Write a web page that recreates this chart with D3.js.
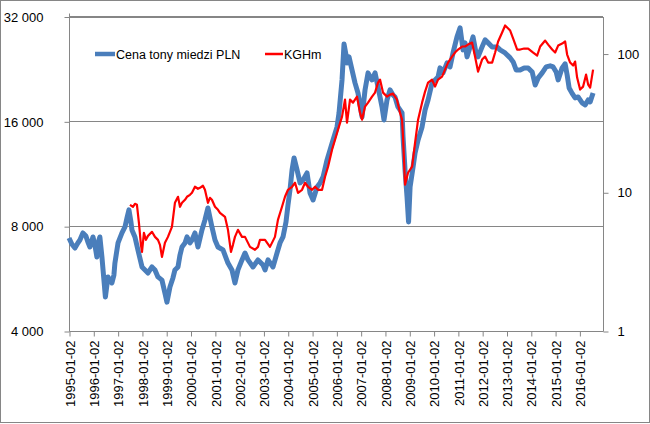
<!DOCTYPE html>
<html><head><meta charset="utf-8">
<script src="https://cdn.jsdelivr.net/npm/d3@7"></script>
<style>
html,body{margin:0;padding:0;background:#fff;}
svg text{font-family:"Liberation Sans",Arial,sans-serif;fill:#000;}
</style></head>
<body><svg id="c" width="650" height="424"></svg>
<script>
const xTickLabels = ["1995-01-02","1996-01-02","1997-01-02","1998-01-02","1999-01-02","2000-01-02","2001-01-02","2002-01-02","2003-01-02","2004-01-02","2005-01-02","2006-01-02","2007-01-02","2008-01-02","2009-01-02","2010-01-02","2011-01-02","2012-01-02","2013-01-02","2014-01-02","2015-01-02","2016-01-02"];
const leftTicks = [4000, 8000, 16000, 32000];
const rightTicks = [1, 10, 100];
const seriesNames = ["Cena tony miedzi PLN", "KGHm"];

const copperSeries = [
["1995-01-02",7400],["1995-02-15",7100],["1995-04-01",6925],["1995-05-15",7160],["1995-06-15",7300],["1995-07-30",7650],["1995-09-13",7500],["1995-10-13",7200],["1995-11-12",6970],["1995-12-28",7450],
["1996-01-27",7050],["1996-02-25",6525],["1996-03-27",7300],["1996-04-10",7450],["1996-05-11",6525],["1996-06-10",5600],["1996-07-02",5010],["1996-07-25",5420],["1996-08-09",5720],["1996-09-08",5600],["1996-10-08",5495],["1996-11-07",5790],["1996-11-22",6270],
["1997-01-08",7160],["1997-03-08",7650],["1997-04-22",7960],["1997-05-22",8445],["1997-06-21",8910],["1997-07-21",8225],["1997-08-05",7800],["1997-09-19",7450],["1997-11-03",6835],
["1998-01-03",6110],["1998-02-17",5990],["1998-04-03",5870],["1998-06-02",6110],["1998-07-17",5990],["1998-08-31",5720],["1998-10-30",5600],["1998-12-14",5140],
["1999-01-13",4840],["1999-02-27",5350],["1999-04-13",5680],["1999-05-13",5990],["1999-06-28",6110],["1999-07-28",6610],["1999-08-27",6970],["1999-10-11",7160],["1999-11-10",7450],["1999-12-25",7160],
["2000-01-24",7300],["2000-03-09",7650],["2000-04-23",6970],["2000-06-22",7800],["2000-08-06",8335],["2000-09-20",9025],["2000-11-19",7960],
["2001-01-04",7300],["2001-02-18",6970],["2001-05-04",6835],["2001-07-18",6270],["2001-09-16",5990],["2001-10-31",5495],["2001-12-15",5990],
["2002-02-14",6400],["2002-03-31",6700],["2002-05-15",6400],["2002-07-29",6110],["2002-10-12",6400],["2002-12-27",6190],
["2003-01-26",5990],["2003-03-12",6400],["2003-05-26",6110],["2003-07-25",6700],["2003-09-08",7160],["2003-10-23",7450],["2003-12-07",8225],
["2004-01-06",9205],["2004-02-05",10160],["2004-03-07",11600],["2004-04-06",12560],["2004-05-21",11600],["2004-07-05",10650],["2004-08-19",10860],["2004-10-18",11375],["2004-12-02",9965],
["2005-01-17",9510],["2005-03-18",10370],["2005-05-02",10650],["2005-06-16",11075],["2005-08-15",12395],["2005-09-29",13245],["2005-11-13",14150],
["2006-01-12",15420],["2006-02-11",16910],["2006-03-28",21040],["2006-04-27",26700],["2006-05-27",24820],["2006-06-11",23545],["2006-07-11",24500],["2006-08-25",22480],["2006-10-09",20630],["2006-11-23",19300],
["2007-01-23",16470],["2007-03-09",19700],["2007-04-23",22040],["2007-06-22",21040],["2007-08-06",22040],["2007-09-20",20090],["2007-11-19",17600],["2007-12-19",16150],
["2008-02-02",18430],["2008-03-18",19700],["2008-05-02",19050],["2008-06-01",18800],["2008-07-16",17600],["2008-09-15",16910],["2008-09-30",14430],["2008-10-30",11600],["2008-11-29",9705],["2008-12-22",8225],
["2009-01-14",10370],["2009-02-28",11835],["2009-03-30",12985],["2009-05-14",14150],["2009-07-13",15420],["2009-08-27",17250],["2009-10-11",18430],["2009-12-10",20630],
["2010-01-24",21040],["2010-03-10",21460],["2010-04-09",22780],["2010-05-24",22040],["2010-07-23",23545],["2010-09-06",22930],["2010-10-21",25150],["2010-12-20",27960],
["2011-02-04",29680],["2011-03-21",25660],["2011-04-20",26875],["2011-05-20",24500],["2011-07-04",26170],["2011-08-18",27960],["2011-10-02",25150],["2011-11-01",24500],
["2012-01-01",26170],["2012-02-15",27420],["2012-04-01",26875],["2012-05-31",26170],["2012-08-14",26170],["2012-09-28",25660],["2012-12-12",25150],
["2013-02-26",24340],["2013-04-12",23700],["2013-05-27",22480],["2013-07-26",22480],["2013-09-24",22780],["2013-11-23",22780],
["2014-01-23",22180],["2014-03-09",20350],["2014-04-23",21320],["2014-06-22",22040],["2014-08-21",22930],["2014-10-20",23100],["2014-12-04",22930],
["2015-01-18",22180],["2015-02-17",21040],["2015-04-18",22780],["2015-06-02",23400],["2015-07-02",21750],["2015-08-01",19950],["2015-09-15",19250],["2015-10-30",18680],["2015-12-14",18800],
["2016-02-13",18070],["2016-03-29",17830],["2016-05-13",18430],["2016-06-12",18200],["2016-07-26",19300]
];

const kghmSeries = [
["1997-07-06",8.12],["1997-08-20",7.86],["1997-09-19",8.26],["1997-10-19",8.12],["1997-11-18",6.02],["1997-12-18",4.18],
["1998-01-03",3.72],["1998-02-01",5.10],["1998-03-03",4.54],["1998-04-03",4.85],["1998-06-02",5.19],["1998-07-17",4.77],["1998-08-31",4.54],["1998-09-30",4.18],["1998-10-30",3.42],["1998-12-14",4.32],
["1999-01-28",4.77],["1999-03-29",5.63],["1999-05-13",8.40],["1999-06-28",9.28],["1999-07-28",7.86],["1999-08-27",8.40],["1999-10-11",8.83],["1999-11-10",9.28],["1999-12-25",9.59],
["2000-01-24",9.91],["2000-03-09",10.96],["2000-04-23",10.60],["2000-05-23",10.77],["2000-07-07",11.14],["2000-08-06",10.42],["2000-09-20",8.40],["2000-10-20",9.12],["2000-11-19",8.83],
["2001-01-04",7.86],["2001-02-18",7.47],["2001-03-20",7.11],["2001-06-03",6.65],["2001-07-18",5.36],["2001-09-01",3.72],["2001-10-01",4.18],["2001-10-31",4.77],["2001-12-15",5.36],
["2002-02-14",4.77],["2002-03-31",4.77],["2002-06-14",4.04],["2002-08-28",3.85],["2002-10-12",4.04],["2002-11-11",4.54],
["2003-01-26",4.54],["2003-04-10",4.04],["2003-06-24",4.77],["2003-08-08",6.33],["2003-10-08",7.86],["2003-11-22",9.28],
["2004-01-06",10.42],["2004-03-07",10.96],["2004-04-21",11.71],["2004-06-05",9.91],["2004-08-04",10.42],["2004-09-18",11.71],["2004-11-02",10.96],
["2005-01-02",10.42],["2005-02-16",10.96],["2005-04-02",10.42],["2005-06-01",10.42],["2005-07-16",12.94],["2005-08-30",15.28],["2005-10-29",20.28],["2005-12-13",23.93],
["2006-01-27",28.27],["2006-03-28",35.09],["2006-05-12",46.53],["2006-06-11",31.75],["2006-07-26",46.53],["2006-09-09",44.29],["2006-11-08",48.94],["2006-12-23",37.51],
["2007-01-23",33.37],["2007-03-09",41.45],["2007-04-23",44.29],["2007-06-22",48.94],["2007-08-06",52.30],["2007-09-20",61.78],["2007-10-20",64.94],["2007-12-04",52.30],
["2008-02-02",48.94],["2008-03-18",50.58],["2008-05-02",51.40],["2008-07-01",46.53],["2008-08-15",37.51],["2008-09-15",33.37],["2008-09-30",25.16],["2008-10-30",11.33],["2008-12-14",13.83],
["2009-02-13",15.28],["2009-03-30",22.77],["2009-05-14",33.37],["2009-07-13",44.29],["2009-08-27",53.17],["2009-10-11",61.78],["2009-12-10",64.94],
["2010-01-24",57.79],["2010-03-10",64.94],["2010-05-09",68.23],["2010-06-23",76.63],["2010-08-07",86.10],["2010-10-06",95.15],["2010-11-20",101.7],
["2011-01-05",106.9],["2011-03-06",112.4],["2011-04-20",112.4],["2011-06-04",116.1],["2011-08-03",120.0],["2011-09-17",95.15],["2011-11-01",74.1],
["2012-01-01",90.5],["2012-02-15",95.15],["2012-04-01",86.10],["2012-05-31",86.10],["2012-07-15",101.7],["2012-08-29",122.1],["2012-10-28",141.8],["2012-12-12",159.3],
["2013-01-27",151.6],["2013-02-26",146.6],["2013-04-12",128.3],["2013-06-11",106.9],["2013-07-26",106.9],["2013-09-24",108.7],["2013-11-23",108.7],
["2014-02-07",101.7],["2014-04-08",96.8],["2014-05-23",112.4],["2014-08-06",124.1],["2014-09-20",116.1],["2014-11-19",106.9],
["2015-01-03",101.7],["2015-02-17",114.2],["2015-04-18",118.1],["2015-06-02",122.1],["2015-07-02",98.4],["2015-08-16",86.1],["2015-09-30",81.9],["2015-10-30",87.5],["2015-11-29",67.1],
["2016-01-13",55.0],["2016-02-27",57.79],["2016-04-12",70.5],["2016-05-13",59.7],["2016-06-12",56.8],["2016-07-26",76.63]
];

const parse = d3.timeParse("%Y-%m-%d");
const svg = d3.select("#c");
const L = 69, R = 603, T = 16.5, B = 331;
const grid = "#868686";

svg.append("rect").attr("x",0.5).attr("y",0.5).attr("width",649).attr("height",422)
  .attr("fill","#fff").attr("stroke",grid);

const x = d3.scaleTime().domain([parse("1995-01-02"), parse("2016-12-22")]).range([L, R]);
const yL = d3.scaleLog().base(2).domain([4000, 32000]).range([B, T]);
const yR = d3.scaleLog().base(10).domain([1, 185]).range([B, T]);

const fmt = v => d3.format(",")(v).replace(/,/g, " ");

// gridlines
svg.append("g").selectAll("line").data(leftTicks.slice(1)).join("line")
  .attr("x1", L).attr("x2", R)
  .attr("y1", d => Math.round(yL(d)) + 0.5).attr("y2", d => Math.round(yL(d)) + 0.5)
  .attr("stroke", grid).attr("stroke-width", 1);

// left axis
const gl = svg.append("g").attr("transform", `translate(${L + 0.5},0.5)`)
  .call(d3.axisLeft(yL).tickValues(leftTicks).tickFormat(fmt).tickSize(5).tickPadding(21));
gl.select(".domain").attr("stroke", grid).attr("d", `M0,${T - 3.5}V${B}`);
gl.selectAll(".tick line").attr("stroke", grid);
gl.selectAll(".tick text").attr("font-size", 13).style("font-family", "'Liberation Sans', Arial, sans-serif");

// right axis
const gr = svg.append("g").attr("transform", `translate(${R + 0.5},0.5)`)
  .call(d3.axisRight(yR).tickValues(rightTicks).tickFormat(d3.format("d")).tickSize(5).tickPadding(9));
gr.select(".domain").attr("stroke", grid).attr("d", `M0,${T}V${B}`);
gr.selectAll(".tick line").attr("stroke", grid);
gr.selectAll(".tick text").attr("font-size", 13).style("font-family", "'Liberation Sans', Arial, sans-serif");

// bottom axis
const xt = xTickLabels.map(parse);
const gb = svg.append("g").attr("transform", `translate(0.5,${B + 0.5})`)
  .call(d3.axisBottom(x).tickValues(xt).tickFormat(d3.timeFormat("%Y-%m-%d")).tickSize(5));
gb.select(".domain").attr("stroke", grid).attr("d", `M${L},0H${R}`);
gb.selectAll(".tick line").attr("stroke", grid);
gb.selectAll(".tick text")
  .attr("font-size", 13).style("font-family", "'Liberation Sans', Arial, sans-serif")
  .attr("text-anchor", "end").attr("transform", "rotate(-90)")
  .attr("x", -9).attr("y", 0).attr("dy", "0.36em");

// top gridline
svg.append("line").attr("x1", L).attr("x2", R).attr("y1", T).attr("y2", T).attr("stroke", grid);

// lines
const lineL = d3.line().x(d => x(parse(d[0]))).y(d => yL(d[1])).curve(d3.curveLinear);
const lineR = d3.line().x(d => x(parse(d[0]))).y(d => yR(d[1])).curve(d3.curveLinear);

svg.append("path").datum(copperSeries).attr("d", lineL)
  .attr("fill", "none").attr("stroke", "#4A7EBB").attr("stroke-width", 5).attr("stroke-linejoin", "round");
svg.append("path").datum(kghmSeries).attr("d", lineR)
  .attr("fill", "none").attr("stroke", "#FF0000").attr("stroke-width", 2.2).attr("stroke-linejoin", "round");

// legend
const lg = svg.append("g");
lg.append("line").attr("x1", 95).attr("x2", 115).attr("y1", 54).attr("y2", 54)
  .attr("stroke", "#4A7EBB").attr("stroke-width", 4.5);
lg.append("text").attr("x", 116).attr("y", 54).attr("dy", "0.36em").attr("font-size", 12.5).text(seriesNames[0]);
lg.append("line").attr("x1", 265).attr("x2", 283).attr("y1", 54).attr("y2", 54)
  .attr("stroke", "#FF0000").attr("stroke-width", 2.5);
lg.append("text").attr("x", 284).attr("y", 54).attr("dy", "0.36em").attr("font-size", 12.5).text(seriesNames[1]);
</script></body></html>
